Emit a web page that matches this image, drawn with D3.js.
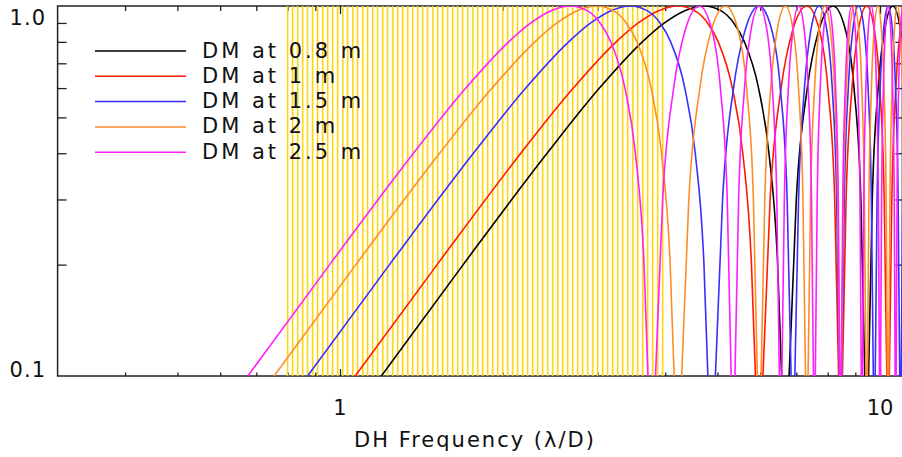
<!DOCTYPE html>
<html>
<head>
<meta charset="utf-8">
<script src="https://cdn.jsdelivr.net/npm/d3@7"></script>
<style>
  body { margin: 0; background: #fff; }
  svg text { font-family: "DejaVu Sans ExtraLight", "DejaVu Sans", sans-serif; fill: #111; }
</style>
</head>
<body>
<div id="chart"></div>
<script>
// Datos: frecuencia DH (lambda/D) y respuesta
const SERIES_NAMES = ['DM at 0.8 m', 'DM at 1 m', 'DM at 1.5 m', 'DM at 2 m', 'DM at 2.5 m'];
const SERIES_COLORS = ['#000000', '#ff1a00', '#3b2dff', '#ff8c28', '#ff1eff'];

const X_MAJOR_TICKS = [1, 10];
const X_MINOR_TICKS = [0.4, 0.5, 0.6, 0.7, 0.8, 0.9, 2, 3, 4, 5, 6, 7, 8, 9];
const Y_MAJOR_TICKS = [0.1, 1];
const Y_MINOR_TICKS = [0.2, 0.3, 0.4, 0.5, 0.6, 0.7, 0.8, 0.9];
const X_TICK_LABELS = ['1', '10'];
const Y_TICK_LABELS = ['0.1', '1.0'];

// bandas verticales amarillas
const BAND_FREQS = [
  0.800, 0.817, 0.835, 0.853, 0.871, 0.890, 0.909, 0.929, 0.949, 0.969,
  0.990, 1.012, 1.033, 1.056, 1.078, 1.102, 1.125, 1.150, 1.174, 1.200,
  1.225, 1.252, 1.279, 1.306, 1.335, 1.363, 1.393, 1.423, 1.453, 1.485,
  1.517, 1.549, 1.583, 1.617, 1.652, 1.687, 1.724, 1.761, 1.799, 1.837,
  1.877, 1.917, 1.959, 2.001, 2.044, 2.088, 2.133, 2.179, 2.226, 2.274,
  2.323, 2.373, 2.424, 2.476, 2.530, 2.584, 2.640, 2.697, 2.755, 2.814,
  2.875, 2.937, 3.000, 3.065, 3.131, 3.198, 3.267, 3.338, 3.410, 3.483,
  3.558, 3.635, 3.713, 3.793, 3.875, 3.958
];

// null = la curva sale por debajo de 0.1
const DM_08 = [
  [1.193,0.1],[1.691,0.2],[2.418,0.4],[3.023,0.6],[3.629,0.8],[3.988,0.9],[4.339,0.97],[4.724,1],[5.080,0.97],[5.359,0.9],[5.608,0.8],[5.957,0.6],[6.227,0.4],[6.463,0.2],[6.573,0.1], null,
  [6.786,0.1],[6.997,0.3],[7.333,0.6],[7.685,0.85],[8.182,1],[8.650,0.85],[8.950,0.6],[9.215,0.3],[9.372,0.1], null,
  [9.522,0.1],[9.674,0.3],[9.919,0.6],[10.182,0.85],[10.562,1],[10.929,0.85],[11.168,0.6]
];
const DM_10 = [
  [1.067,0.1],[1.513,0.2],[2.162,0.4],[2.704,0.6],[3.246,0.8],[3.567,0.9],[3.881,0.97],[4.225,1],[4.543,0.97],[4.793,0.9],[5.016,0.8],[5.328,0.6],[5.570,0.4],[5.780,0.2],[5.879,0.1], null,
  [6.070,0.1],[6.258,0.3],[6.559,0.6],[6.874,0.85],[7.318,1],[7.737,0.85],[8.006,0.6],[8.243,0.3],[8.382,0.1], null,
  [8.517,0.1],[8.652,0.3],[8.872,0.6],[9.107,0.85],[9.447,1],[9.775,0.85],[9.989,0.6],[10.180,0.3],[10.294,0.1], null,
  [10.404,0.1],[10.515,0.3],[10.696,0.6],[10.892,0.85],[11.178,1]
];
const DM_15 = [
  [0.871,0.1],[1.235,0.2],[1.766,0.4],[2.208,0.6],[2.651,0.8],[2.913,0.9],[3.169,0.97],[3.450,1],[3.710,0.97],[3.914,0.9],[4.096,0.8],[4.350,0.6],[4.548,0.4],[4.720,0.2],[4.800,0.1], null,
  [4.956,0.1],[5.110,0.3],[5.355,0.6],[5.612,0.85],[5.975,1],[6.317,0.85],[6.536,0.6],[6.730,0.3],[6.844,0.1], null,
  [6.954,0.1],[7.065,0.3],[7.244,0.6],[7.436,0.85],[7.714,1],[7.981,0.85],[8.156,0.6],[8.312,0.3],[8.405,0.1], null,
  [8.495,0.1],[8.585,0.3],[8.734,0.6],[8.894,0.85],[9.127,1],[9.354,0.85],[9.504,0.6],[9.638,0.3],[9.718,0.1], null,
  [9.796,0.1],[9.875,0.3],[10.004,0.6],[10.144,0.85],[10.349,1],[10.550,0.85],[10.683,0.6],[10.802,0.3],[10.874,0.1], null,
  [10.943,0.1],[11.014,0.3]
];
const DM_20 = [
  [0.755,0.1],[1.070,0.2],[1.529,0.4],[1.912,0.6],[2.295,0.8],[2.522,0.9],[2.744,0.97],[2.988,1],[3.213,0.97],[3.389,0.9],[3.547,0.8],[3.768,0.6],[3.939,0.4],[4.087,0.2],[4.157,0.1], null,
  [4.292,0.1],[4.425,0.3],[4.638,0.6],[4.860,0.85],[5.174,1],[5.471,0.85],[5.661,0.6],[5.828,0.3],[5.927,0.1], null,
  [6.022,0.1],[6.118,0.3],[6.274,0.6],[6.440,0.85],[6.680,1],[6.912,0.85],[7.064,0.6],[7.199,0.3],[7.279,0.1], null,
  [7.357,0.1],[7.435,0.3],[7.564,0.6],[7.702,0.85],[7.904,1],[8.101,0.85],[8.231,0.6],[8.347,0.3],[8.416,0.1], null,
  [8.484,0.1],[8.552,0.3],[8.664,0.6],[8.785,0.85],[8.962,1],[9.137,0.85],[9.252,0.6],[9.355,0.3],[9.417,0.1], null,
  [9.477,0.1],[9.538,0.3],[9.639,0.6],[9.748,0.85],[9.908,1],[10.066,0.85],[10.171,0.6],[10.265,0.3],[10.321,0.1], null,
  [10.376,0.1],[10.432,0.3],[10.524,0.6],[10.624,0.85],[10.772,1],[10.917,0.85],[11.013,0.6]
];
const DM_25 = [
  [0.675,0.1],[0.957,0.2],[1.368,0.4],[1.710,0.6],[2.053,0.8],[2.256,0.9],[2.454,0.97],[2.672,1],[2.873,0.97],[3.032,0.9],[3.173,0.8],[3.370,0.6],[3.523,0.4],[3.656,0.2],[3.718,0.1], null,
  [3.839,0.1],[3.958,0.3],[4.148,0.6],[4.347,0.85],[4.628,1],[4.893,0.85],[5.063,0.6],[5.213,0.3],[5.301,0.1], null,
  [5.387,0.1],[5.472,0.3],[5.611,0.6],[5.760,0.85],[5.975,1],[6.182,0.85],[6.318,0.6],[6.439,0.3],[6.510,0.1], null,
  [6.580,0.1],[6.650,0.3],[6.765,0.6],[6.889,0.85],[7.070,1],[7.246,0.85],[7.362,0.6],[7.466,0.3],[7.528,0.1], null,
  [7.588,0.1],[7.649,0.3],[7.749,0.6],[7.857,0.85],[8.016,1],[8.172,0.85],[8.275,0.6],[8.368,0.3],[8.423,0.1], null,
  [8.477,0.1],[8.531,0.3],[8.621,0.6],[8.719,0.85],[8.862,1],[9.003,0.85],[9.097,0.6],[9.181,0.3],[9.232,0.1], null,
  [9.281,0.1],[9.331,0.3],[9.413,0.6],[9.503,0.85],[9.634,1],[9.764,0.85],[9.851,0.6],[9.929,0.3],[9.975,0.1], null,
  [10.021,0.1],[10.067,0.3],[10.143,0.6],[10.226,0.85],[10.349,1],[10.470,0.85],[10.551,0.6],[10.623,0.3],[10.667,0.1], null,
  [10.710,0.1],[10.753,0.3],[10.824,0.6],[10.902,0.85],[11.017,1]
];
const SERIES = [DM_08, DM_10, DM_15, DM_20, DM_25];

//////VISUALIZACION
let width = 902, height = 457;
let plot = {left: 57.6, right: 902.4, top: 6, bottom: 376};
let AXIS_COLOR = '#222';

let svg = d3.select('#chart')
    .append('svg')
        .attr('width', width)
        .attr('height', height);

let x = d3.scaleLog()
    .domain([0.3, 11])
    .range([plot.left, plot.right]);

let y = d3.scaleLog()
    .domain([0.1, 1])
    .range([plot.bottom, plot.top]);

svg.append('clipPath')
    .attr('id', 'clip')
    .append('rect')
        .attr('x', plot.left)
        .attr('y', plot.top)
        .attr('width', plot.right - plot.left)
        .attr('height', plot.bottom - plot.top);

// marco
svg.append('rect')
    .attr('x', plot.left)
    .attr('y', plot.top)
    .attr('width', plot.right - plot.left)
    .attr('height', plot.bottom - plot.top)
    .attr('fill', 'none')
    .attr('stroke', AXIS_COLOR)
    .attr('stroke-width', 1.5);

// ejes (ticks hacia dentro, estilo IDL)
function addAxis(axis, tx, ty) {
    svg.append('g')
        .attr('transform', 'translate(' + tx + ',' + ty + ')')
        .attr('color', AXIS_COLOR)
        .call(axis)
        .call(function(g) { g.select('.domain').remove(); })
        .call(function(g) { g.selectAll('.tick line').attr('stroke-width', 1.3); });
}
addAxis(d3.axisBottom(x).tickValues(X_MAJOR_TICKS).tickSize(-7).tickFormat(''), 0, plot.bottom);
addAxis(d3.axisBottom(x).tickValues(X_MINOR_TICKS).tickSize(-3.5).tickFormat(''), 0, plot.bottom);
addAxis(d3.axisTop(x).tickValues(X_MAJOR_TICKS).tickSize(-8).tickFormat(''), 0, plot.top);
addAxis(d3.axisTop(x).tickValues(X_MINOR_TICKS).tickSize(-5).tickFormat(''), 0, plot.top);
addAxis(d3.axisLeft(y).tickValues(Y_MINOR_TICKS).tickSize(-9).tickFormat(''), plot.left, 0);
addAxis(d3.axisRight(y).tickValues(Y_MINOR_TICKS).tickSize(-7).tickFormat(''), plot.right, 0);

let area = svg.append('g').attr('clip-path', 'url(#clip)');

// lineas amarillas
area.append('g')
    .selectAll('line')
    .data(BAND_FREQS)
    .enter()
    .append('line')
        .attr('x1', function(d) { return x(d); })
        .attr('x2', function(d) { return x(d); })
        .attr('y1', y(0.1))
        .attr('y2', y(1))
        .attr('stroke', '#ffd400')
        .attr('stroke-opacity', 0.95)
        .attr('stroke-width', 1.6);

let line = d3.line()
    .defined(function(d) { return d !== null; })
    .x(function(d) { return x(d[0]); })
    .y(function(d) { return y(d[1]); })
    .curve(d3.curveMonotoneX);

area.selectAll('path.serie')
    .data(SERIES)
    .enter()
    .append('path')
        .attr('class', 'serie')
        .attr('d', line)
        .attr('fill', 'none')
        .attr('stroke', function(d, i) { return SERIES_COLORS[i]; })
        .attr('stroke-width', 1.6);

// etiquetas de ticks
svg.selectAll('text.xlab')
    .data(X_MAJOR_TICKS)
    .enter()
    .append('text')
        .attr('class', 'xlab')
        .attr('x', function(d) { return x(d); })
        .attr('y', 415)
        .attr('text-anchor', 'middle')
        .style('font-size', '21px')
        .text(function(d, i) { return X_TICK_LABELS[i]; });

svg.selectAll('text.ylab')
    .data(Y_MAJOR_TICKS)
    .enter()
    .append('text')
        .attr('class', 'ylab')
        .attr('x', 46)
        .attr('y', function(d) { return Math.max(y(d) + 1, 25); })
        .attr('text-anchor', 'end')
        .style('font-size', '21px')
        .style('letter-spacing', '1px')
        .text(function(d, i) { return Y_TICK_LABELS[i]; });

svg.append('text')
    .attr('x', 354)
    .attr('y', 447)
    .style('font-size', '21px')
    .style('letter-spacing', '2px')
    .text('DH Frequency (\u03BB/D)');

// leyenda
let legend = svg.append('g')
    .selectAll('g')
    .data(SERIES_NAMES)
    .enter()
    .append('g')
        .attr('transform', function(d, i) { return 'translate(0,' + (51 + i * 25.3) + ')'; });

legend.append('line')
    .attr('x1', 95)
    .attr('x2', 186)
    .attr('stroke', function(d, i) { return SERIES_COLORS[i]; })
    .attr('stroke-width', 1.5);

legend.append('text')
    .attr('x', 202)
    .attr('y', 6.5)
    .style('font-size', '21px')
    .style('letter-spacing', '3px')
    .text(function(d) { return d; });
</script>
</body>
</html>
